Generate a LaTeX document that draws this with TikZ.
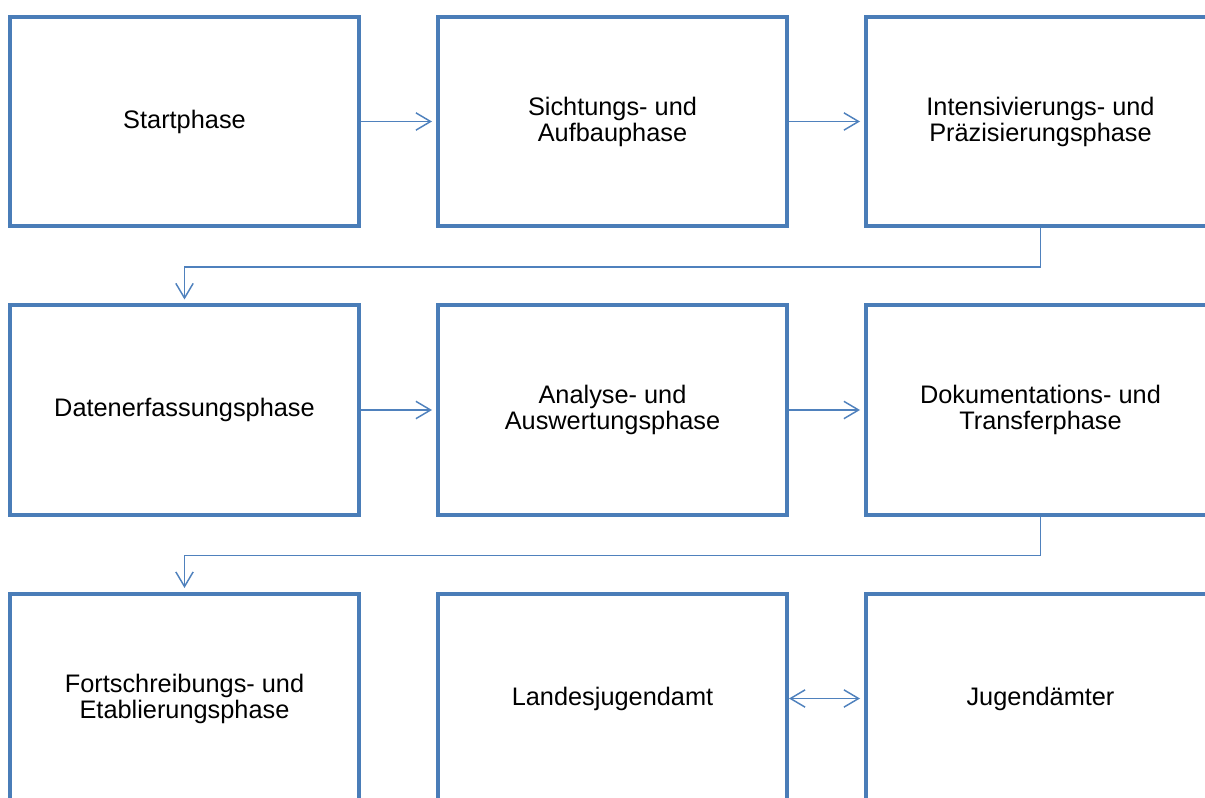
\documentclass[tikz,border=0pt]{standalone}
\usepackage{fontspec}
\setmainfont{Liberation Sans}
\usetikzlibrary{arrows.meta}
\definecolor{phaseblue}{RGB}{74,125,184}
\definecolor{linkblue}{RGB}{79,129,189}
\tikzset{
  phase/.style={draw=phaseblue, line width=3pt, fill=white,
    minimum width=261.75pt, minimum height=156.75pt, align=center,
    font=\fontsize{19}{19.5}\selectfont},
  link/.style={draw=linkblue, line width=1.1pt,
    -{Straight Barb[length=11pt,width=13pt]}, shorten >=3pt},
  twolink/.style={link, {Straight Barb[length=11pt,width=13pt]}-{Straight Barb[length=11pt,width=13pt]}}
}
\begin{document}
\begin{tikzpicture}[x=0.75pt,y=-0.75pt]
\useasboundingbox (0,0) rectangle (1205,798);
\clip (0,0) rectangle (1205,798);

% erste Reihe
\node[phase] (start) at (184.5,121.5) {Startphase};
\node[phase] (sicht) at (612.5,121.5) {Sichtungs- und\\Aufbauphase};
\node[phase] (intens) at (1040.5,121.5) {Intensivierungs- und\\Pr\"azisierungsphase};

% zweite Reihe
\node[phase] (daten) at (184.5,410) {Datenerfassungsphase};
\node[phase] (analyse) at (612.5,410) {Analyse- und\\Auswertungsphase};
\node[phase] (doku) at (1040.5,410) {Dokumentations- und\\Transferphase};

% dritte Reihe
\node[phase] (fort) at (184.5,698.5) {Fortschreibungs- und\\Etablierungsphase};
\node[phase] (ljamt) at (612.5,698.5) {Landesjugendamt};
\node[phase] (jamt) at (1040.5,698.5) {Jugend\"amter};

\draw[link] (start) -- (sicht);
\draw[link] (sicht) -- (intens);
\draw[link] (intens.south) -- ++(0,39) -| (daten.north);
\draw[link] (daten) -- (analyse);
\draw[link] (analyse) -- (doku);
\draw[link] (doku.south) -- ++(0,39) -| (fort.north);
\draw[twolink] (ljamt) -- (jamt);

\end{tikzpicture}
\end{document}
